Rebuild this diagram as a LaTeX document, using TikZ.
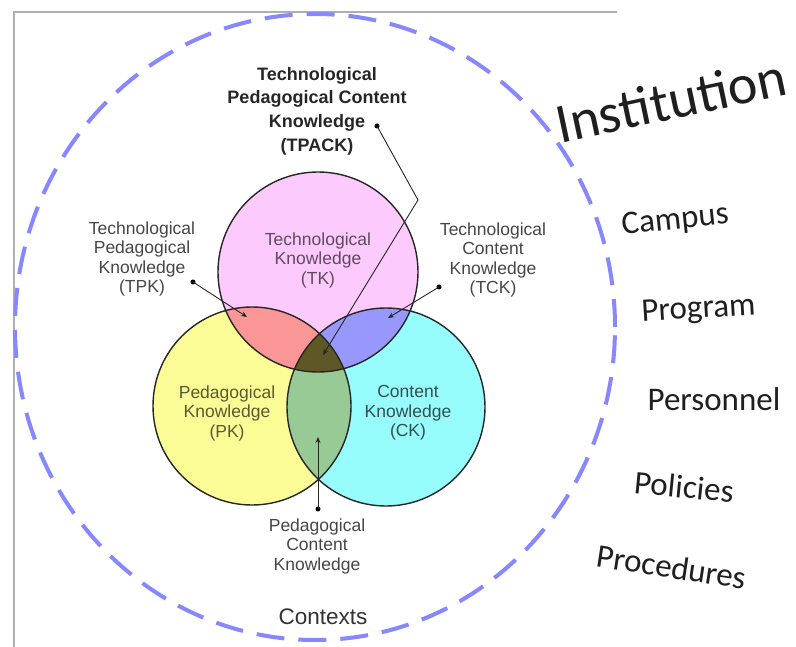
\documentclass[tikz,border=0pt]{standalone}
\usepackage{fontspec}
\setmainfont{Liberation Sans}
\newfontfamily\calibf{Carlito}
\usetikzlibrary{arrows.meta}
\definecolor{tkpink}{RGB}{252,202,252}
\definecolor{pkyellow}{RGB}{252,252,150}
\definecolor{ckcyan}{RGB}{150,252,252}
\definecolor{tpkred}{RGB}{250,150,150}
\definecolor{tckblue}{RGB}{152,152,252}
\definecolor{pckgreen}{RGB}{152,202,150}
\definecolor{tpackolive}{RGB}{95,88,38}
\definecolor{ctxblue}{RGB}{135,135,255}
\definecolor{lblgray}{RGB}{70,70,70}
\definecolor{framegray}{RGB}{175,175,175}
\definecolor{tktext}{RGB}{95,75,95}
\definecolor{pktext}{RGB}{90,90,50}
\definecolor{cktext}{RGB}{50,80,80}
\begin{document}
\begin{tikzpicture}[x=1pt,y=-1pt,
  lbl/.style={align=center, text=lblgray, font=\fontsize{17.5}{19.5}\selectfont, inner sep=0pt},
  inlbl/.style={lbl, text=#1},
  boldlbl/.style={align=center, text=black!85, font=\bfseries\fontsize{18}{23.7}\selectfont, inner sep=0pt},
  ctxlbl/.style={font=\calibf\fontsize{33}{36}\selectfont, text=black!88, inner sep=0pt, anchor=base},
  ptr/.style={draw=black!85, line width=0.9pt, -{Stealth[length=6pt,width=5pt]}},
  dotmark/.style={circle, fill=black, inner sep=0pt, minimum size=5pt},
  venn/.style={draw=black!85, line width=1.4pt}]
\useasboundingbox (0,0) rectangle (796,647);
\fill[white] (0,0) rectangle (796,647);
% frame
\draw[framegray, line width=1.3pt] (617,12) -- (14,12) -- (14,647);
% contexts ellipse
\draw[ctxblue, line width=4pt, dash pattern=on 28pt off 14pt] (315,327) ellipse [x radius=300pt, y radius=313pt];
% circle geometry
\coordinate (tkc) at (318,272);
\coordinate (pkc) at (252,406);
\coordinate (ckc) at (386,407);
\def\tkpath{(tkc) circle [radius=100pt]}
\def\pkpath{(pkc) circle [radius=99pt]}
\def\ckpath{(ckc) circle [radius=99pt]}
\fill[tkpink] \tkpath;
\fill[pkyellow] \pkpath;
\fill[ckcyan] \ckpath;
\begin{scope}
  \clip \pkpath;
  \fill[tpkred] \tkpath;
\end{scope}
\begin{scope}
  \clip \ckpath;
  \fill[tckblue] \tkpath;
\end{scope}
\begin{scope}
  \clip \pkpath;
  \fill[pckgreen] \ckpath;
\end{scope}
\begin{scope}
  \clip \pkpath;
  \clip \ckpath;
  \fill[tpackolive] \tkpath;
\end{scope}
\draw[venn] \tkpath;
\draw[venn] \pkpath;
\draw[venn] \ckpath;
% circle labels
\node[inlbl=tktext] (tk) at (318,260) {Technological\\Knowledge\\(TK)};
\node[inlbl=pktext] (pk) at (227,413) {Pedagogical\\Knowledge\\(PK)};
\node[inlbl=cktext] (ck) at (408,413) {Content\\Knowledge\\(CK)};
% outer labels
\node[boldlbl] (tpack) at (317,111) {Technological\\Pedagogical Content\\Knowledge\\(TPACK)};
\node[lbl] (tpk) at (142,259) {Technological\\Pedagogical\\Knowledge\\(TPK)};
\node[lbl] (tck) at (493,260) {Technological\\Content\\Knowledge\\(TCK)};
\node[lbl] (pck) at (317,546) {Pedagogical\\Content\\Knowledge};
\node[font=\fontsize{22.5}{25}\selectfont, text=black!80, inner sep=0pt] (ctx) at (323,617) {Contexts};
% pointers
\node[dotmark] (d1) at (377,126) {};
\coordinate (k1) at (418,200);
\coordinate (t1) at (323,355);
\draw[ptr] (d1.center) -- (k1) -- (t1);
\node[dotmark] (d2) at (193,282) {};
\coordinate (t2) at (247,317);
\draw[ptr] (d2.center) -- (t2);
\node[dotmark] (d3) at (439,287) {};
\coordinate (t3) at (388,318);
\draw[ptr] (d3.center) -- (t3);
\node[dotmark] (d4) at (318,509) {};
\coordinate (t4) at (318,437);
\draw[ptr] (d4.center) -- (t4);
% right side texts
\node[ctxlbl, font=\calibf\fontsize{56}{60}\selectfont, rotate=12] (inst) at (675,119) {Institution};
\node[ctxlbl, rotate=6] (campus) at (676,229) {Campus};
\node[ctxlbl, rotate=3.5] (program) at (699,318) {Program};
\node[ctxlbl] (personnel) at (714,410) {Personnel};
\node[ctxlbl, rotate=-5.5] (policies) at (683,498) {Policies};
\node[ctxlbl, rotate=-8.7] (procedures) at (670,578) {Procedures};
\end{tikzpicture}
\end{document}
